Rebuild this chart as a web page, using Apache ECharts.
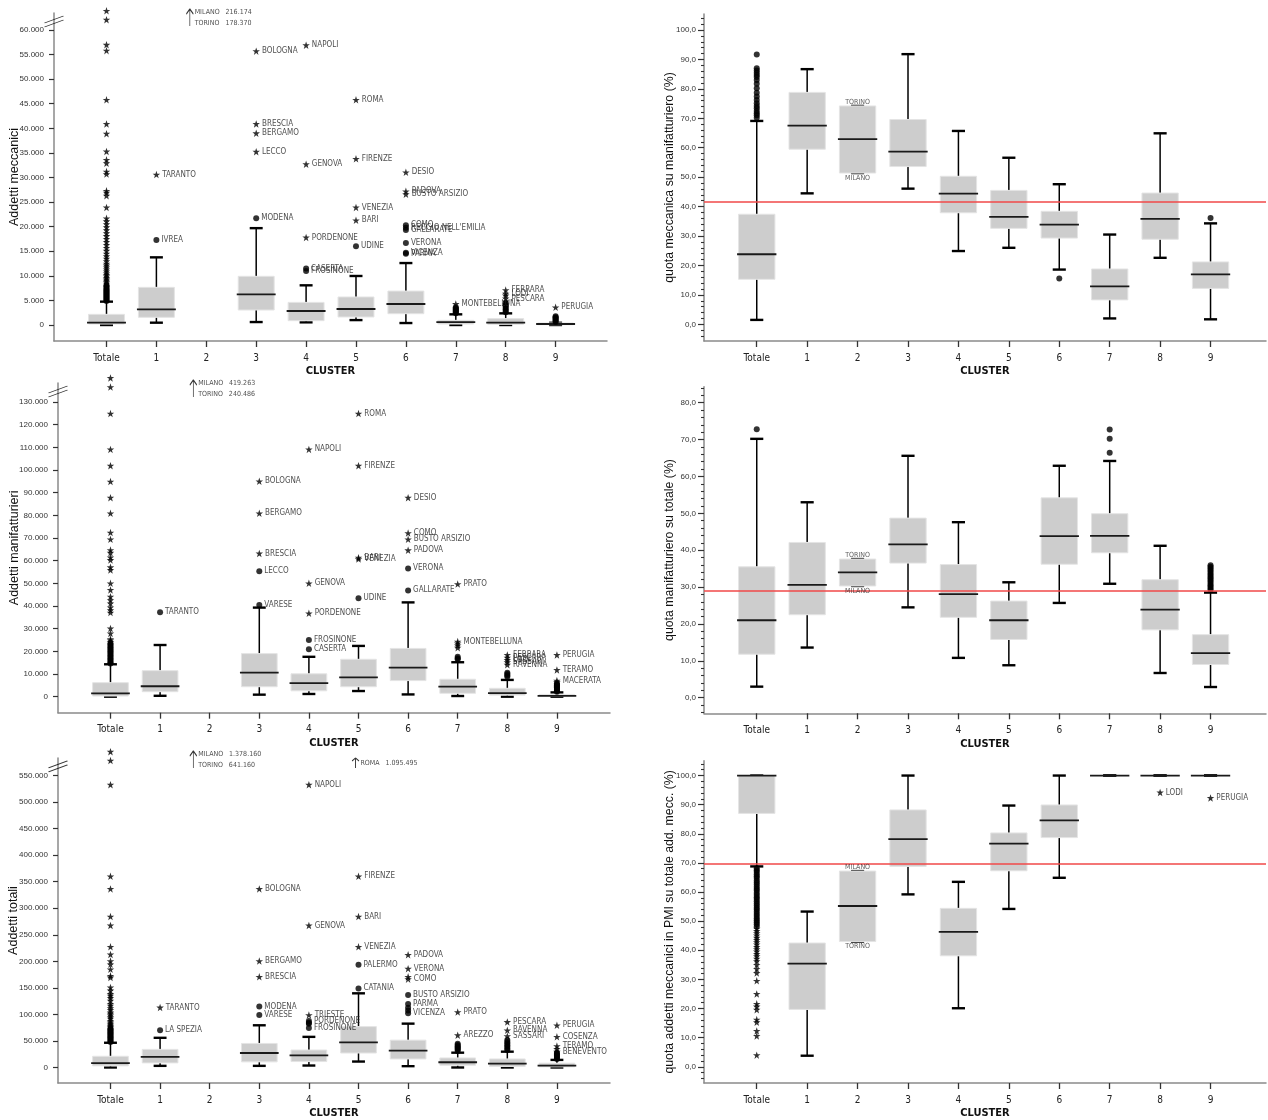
<!DOCTYPE html>
<html><head><meta charset="utf-8">
<script src="https://cdn.jsdelivr.net/npm/echarts@6/dist/echarts.min.js"></script>
<style>html,body{margin:0;padding:0;background:#fff}#c{width:1268px;height:1120px}</style>
</head><body><div id="c"></div>
<script>
// ---------------- DATA ----------------
const categories = ['Totale','1','2','3','4','5','6','7','8','9'];

// box rows: [lower whisker, Q1, median, Q3, upper whisker]  (null = no box)
// outliers: [categoryIndex, value, label]

// Panel 1 - Addetti meccanici
const p1Boxes = [[0,200,470,2170,4750],[470,1560,3190,7660,13760],null,[600,3050,6240,9900,19700],[540,880,2850,4600,8070],[1000,1630,3250,5700,9970],[400,2300,4270,6900,12600],[0,200,600,950,2170],[0,140,470,1300,2370],[0,60,200,400,450]];
const p1TotCircles = [4900,5100,5300,5500,5700,5900,6100,6300,6500,6700,6900,7100,7300,7600,7900,8100];
const p1TotStars = [8400,8700,9000,9300,9600,9900,10200,10500,10900,11300,11700,12100,12500,13000,13500,14000,14500,15100,15700,16300,16900,17500,18100,18700,19300,19900,20500,21100,21700,23900,26300,26900,27300,30700,31200,32900,33600,35300,38900,40900,45800,55800,57000,62100,63900];
const p1Circles = [[1,17300,'IVREA'],[3,21700,'MODENA'],[4,11500,'CASERTA'],[4,11000,'FROSINONE'],[5,16000,'UDINE'],[6,20300,'COMO'],[6,19800,"REGGIO NELL'EMILIA"],[6,19300,'GALLARATE'],[6,16700,'VERONA'],[6,14700,'VICENZA'],[6,14500,'PARMA'],[7,2400,''],[7,2600,''],[7,2800,''],[7,3000,''],[7,3200,''],[7,3400,''],[7,3600,''],[8,2600,''],[8,2900,''],[8,3200,''],[8,3500,''],[8,3800,''],[8,4100,''],[8,4400,''],[9,600,''],[9,800,''],[9,1000,''],[9,1200,''],[9,1400,''],[9,1600,''],[9,1800,'']];
const p1Stars = [[1,30600,'TARANTO'],[3,35250,'LECCO'],[3,39000,'BERGAMO'],[3,40900,'BRESCIA'],[3,55700,'BOLOGNA'],[4,17800,'PORDENONE'],[4,32700,'GENOVA'],[4,56900,'NAPOLI'],[5,21300,'BARI'],[5,23900,'VENEZIA'],[5,33800,'FIRENZE'],[5,45800,'ROMA'],[6,26600,'BUSTO ARSIZIO'],[6,27200,'PADOVA'],[6,31060,'DESIO'],[7,4270,'MONTEBELLUNA'],[8,4800,''],[8,5400,'PESCARA'],[8,6000,''],[8,6400,'LODI'],[8,7100,'FERRARA'],[9,3600,'PERUGIA']];
const p1Offscale = [[2,'MILANO','216.174'],[2,'TORINO','178.370']];
const p1Ticks = [0,5000,10000,15000,20000,25000,30000,35000,40000,45000,50000,55000,60000];

// Panel 2 - quota meccanica su manifatturiero (%)
const p2Boxes = [[1.5,15.3,23.8,37.4,69.1],[44.5,59.5,67.5,78.8,86.7],[51.4,51.4,62.9,74.2,74.2],[46.1,53.6,58.7,69.6,91.8],[24.9,37.9,44.4,50.3,65.7],[26.0,32.6,36.5,45.5,56.6],[18.6,29.3,33.9,38.4,47.6],[2.0,8.3,12.9,18.8,30.5],[22.6,28.9,35.8,44.6,64.9],[1.7,12.2,17.0,21.2,34.3]];
const p2TotCircles = [70.2,71.0,71.7,72.5,73.4,74.2,75.1,76.2,77.4,78.7,80.2,81.7,83.0,84.0,84.7,85.5,86.2,87.0,91.7];
const p2Circles = [[6,15.6,''],[9,36.1,'']];
const p2Members = [['TORINO',74.2],['MILANO',51.4]];
const p2Ref = 41.6;
const p2Ticks = [0,10,20,30,40,50,60,70,80,90,100];

// Panel 3 - Addetti manifatturieri
const p3Boxes = [[0,300,1500,6200,14300],[400,2200,4600,11500,22800],null,[900,4400,10600,19000,39300],[1200,2600,6000,10100,17600],[2500,4400,8500,16500,22400],[1000,7100,12800,21300,41600],[300,1500,4400,7700,15200],[0,700,1600,3700,7400],[0,300,400,1000,1900]];
const p3TotCircles = [14600,15200,15800,16400,17000,17600,18200,18800,19400,20000,20600,21200,21800,22400,23000,23600];
const p3TotStars = [24200,24800,25400,27900,30100,37100,38200,39400,41200,42600,44100,47100,50000,55900,57100,60300,61500,63500,64700,69400,72400,80900,87800,94900,101900,109100,124900,136600,140600];
const p3Circles = [[1,37200,'TARANTO'],[3,40400,'VARESE'],[3,55300,'LECCO'],[4,20900,'CASERTA'],[4,25000,'FROSINONE'],[5,43400,'UDINE'],[6,46900,'GALLARATE'],[6,56600,'VERONA'],[7,16500,''],[7,17000,''],[7,17600,''],[8,8800,''],[8,9400,''],[8,10000,''],[8,10600,''],[9,2200,''],[9,2600,''],[9,3000,''],[9,3400,''],[9,3800,''],[9,4200,''],[9,4600,''],[9,5000,''],[9,5400,''],[9,5900,'']];
const p3Stars = [[3,63200,'BRESCIA'],[3,80900,'BERGAMO'],[3,95000,'BOLOGNA'],[4,36800,'PORDENONE'],[4,50000,'GENOVA'],[4,109100,'NAPOLI'],[5,61300,'BARI'],[5,60700,'VENEZIA'],[5,101900,'FIRENZE'],[5,124900,'ROMA'],[6,64600,'PADOVA'],[6,69400,'BUSTO ARSIZIO'],[6,72200,'COMO'],[6,87800,'DESIO'],[7,21600,''],[7,22600,''],[7,23500,''],[7,24300,'MONTEBELLUNA'],[7,49700,'PRATO'],[8,14100,'RAVENNA'],[8,15200,'SASSARI'],[8,16200,'LODI'],[8,17200,'PESCARA'],[8,18400,'FERRARA'],[9,6400,''],[9,7100,'MACERATA'],[9,11800,'TERAMO'],[9,18400,'PERUGIA']];
const p3Offscale = [[2,'MILANO','419.263'],[2,'TORINO','240.486']];
const p3Ticks = [0,10000,20000,30000,40000,50000,60000,70000,80000,90000,100000,110000,120000,130000];

// Panel 4 - quota manifatturiero su totale (%)
const p4Boxes = [[3.0,11.8,21.0,35.5,70.2],[13.6,22.5,30.6,42.1,53.0],[30.3,30.3,34.0,37.6,37.6],[24.5,36.5,41.6,48.7,65.6],[10.8,21.8,28.1,36.1,47.6],[8.8,15.8,21.0,26.2,31.3],[25.7,36.2,43.8,54.2,62.9],[30.9,39.3,43.9,49.9,64.2],[6.7,18.4,23.9,32.0,41.2],[2.9,9.0,12.1,17.1,28.5]];
const p4TotCircles = [72.8];
const p4Circles = [[7,66.4,''],[7,70.2,''],[7,72.7,''],[9,29.2,''],[9,29.6,''],[9,30.1,''],[9,30.5,''],[9,31.0,''],[9,31.5,''],[9,31.9,''],[9,32.4,''],[9,32.8,''],[9,33.3,''],[9,33.7,''],[9,34.2,''],[9,34.6,''],[9,35.1,''],[9,35.5,''],[9,35.9,'']];
const p4Members = [['TORINO',37.6],['MILANO',30.3]];
const p4Ref = 29.1;
const p4Ticks = [0,10,20,30,40,50,60,70,80];

// Panel 5 - Addetti totali
const p5Boxes = [[0,3100,8100,21100,46600],[3100,8700,19900,34100,55900],null,[3100,10600,27300,45300,79500],[3700,11200,23000,32900,57700],[11200,27300,47200,77000,139700],[2500,16100,31700,51500,82600],[0,4300,9900,18000,27900],[0,1900,7400,16100,29800],[0,1200,3700,8100,14300]];
const p5TotCircles = [48000,50000,52000,54000,56000,58000,60000,62000,64000,66000,68000,70000,72000,74000];
const p5TotStars = [76000,78500,80500,82600,85000,88000,91900,95000,98000,101200,104000,108600,112000,116700,120000,126000,131000,135300,138400,145000,150800,169500,172600,185000,194300,200500,212900,227200,267500,284300,336400,360000,532600,578000,594800];
const p5Circles = [[1,70100,'LA SPEZIA'],[3,98700,'VARESE'],[3,114800,'MODENA'],[4,74500,'FROSINONE'],[4,82600,''],[4,84500,''],[4,87500,'PORDENONE'],[5,149000,'CATANIA'],[5,193700,'PALERMO'],[6,102400,'VICENZA'],[6,107400,''],[6,112400,''],[6,119800,'PARMA'],[6,136600,'BUSTO ARSIZIO'],[7,31000,''],[7,34000,''],[7,36000,''],[7,38000,''],[7,40000,''],[7,42200,''],[7,44500,''],[8,33000,''],[8,36000,''],[8,39000,''],[8,42000,''],[8,45000,''],[8,48000,''],[8,52000,''],[9,16000,''],[9,18000,''],[9,20000,''],[9,22000,''],[9,24000,''],[9,26000,''],[9,28000,'']];
const p5Stars = [[1,113000,'TARANTO'],[3,170700,'BRESCIA'],[3,200500,'BERGAMO'],[3,336400,'BOLOGNA'],[4,98700,'TRIESTE'],[4,267500,'GENOVA'],[4,532600,'NAPOLI'],[5,227200,'VENEZIA'],[5,284300,'BARI'],[5,360000,'FIRENZE'],[6,166400,'COMO'],[6,170700,''],[6,186200,'VERONA'],[6,212300,'PADOVA'],[7,60800,'AREZZO'],[7,104300,'PRATO'],[8,59000,'SASSARI'],[8,70100,'RAVENNA'],[8,85700,'PESCARA'],[9,30000,'BENEVENTO'],[9,35000,''],[9,40300,'TERAMO'],[9,57700,'COSENZA'],[9,79500,'PERUGIA']];
const p5Offscale = [[2,'MILANO','1.378.160'],[2,'TORINO','641.160'],[5,'ROMA','1.095.495']];
const p5Ticks = [0,50000,100000,150000,200000,250000,300000,350000,400000,450000,500000,550000];

// Panel 6 - quota addetti meccanici in PMI su totale add. mecc. (%)
const p6Boxes = [[68.8,87.0,100,100,100],[3.8,19.7,35.4,42.5,53.3],[43.0,43.0,55.2,67.2,67.2],[59.2,68.8,78.2,88.2,100],[20.1,38.1,46.3,54.4,63.5],[54.2,67.3,76.6,80.3,89.7],[64.9,78.7,84.6,89.9,100],[100,100,100,100,100],[100,100,100,100,100],[100,100,100,100,100]];
const p6TotCircles = [68.2,67.5,66.9,66.1,65.4,64.8,64.0,63.3,62.6,61.8,61.1,60.5,59.7,59.0,58.2,57.6,56.8,56.1,55.4,54.6,54.0,53.2,52.5,51.8,51.0,50.3,49.6,48.9,48.2];
const p6TotStars = [47.4,46.7,45.9,45.1,44.3,43.6,42.8,42.0,41.2,40.4,39.6,38.8,38.0,37.1,36.3,35.0,33.6,32.2,29.5,25.0,21.6,20.7,19.6,16.2,15.3,12.3,10.6,4.0];
const p6Stars = [[8,94.2,'LODI'],[9,92.3,'PERUGIA']];
const p6Members = [['MILANO',67.2],['TORINO',43.0]];
const p6Ref = 69.6;
const p6Ticks = [0,10,20,30,40,50,60,70,80,90,100];

// ---------------- LAYOUT / STYLE ----------------
const NARROW = "'Liberation Sans Narrow','Arial Narrow','DejaVu Sans Condensed',sans-serif";
const SANS = "'Liberation Sans',Arial,sans-serif";
const STAR = 'path://M50,0 L61.8,34.5 L97.6,34.5 L68.8,55.9 L79.4,90.5 L50,69.1 L20.6,90.5 L31.2,55.9 L2.4,34.5 L38.2,34.5 Z';
const ARROW = 'path://M6,0 L0,6 M6,0 L12,6 M6,0 L6,20';
const BREAK = 'path://M0,7 L19,0 M0,11 L19,4';
const BOX_W = 0.72, MED_W = 0.78, CAP_W = 0.26;

const LAYOUT = [
  {left:54, top:13, width:553, height:328, xMin:-0.052, xMax:11.03, yMin:-3254, yMax:63457, nameGap:33, arrowBottom:13},
  {left:704, top:14, width:562, height:327, xMin:-0.046, xMax:11.1, yMin:-5.67, yMax:105.44, nameGap:28},
  {left:58, top:383, width:552, height:329.7, xMin:-0.058, xMax:11.07, yMin:-7060, yMax:138380, nameGap:37, arrowBottom:14},
  {left:704, top:386.7, width:562, height:326.6, xMin:-0.046, xMax:11.1, yMin:-4.23, yMax:84.34, nameGap:28},
  {left:58, top:758, width:552, height:328.7, xMin:-0.058, xMax:11.07, yMin:-29200, yMax:582900, nameGap:37.5, arrowBottom:10},
  {left:704, top:760.7, width:562, height:326, xMin:-0.046, xMax:11.1, yMin:-5.57, yMax:105.1, nameGap:28}
];
const ARROW_DX = {2:-0.33, 5:-0.06};

const PANELS = [
  {name:'Addetti meccanici', pct:false, boxes:p1Boxes, totCircles:p1TotCircles, totStars:p1TotStars, circles:p1Circles, stars:p1Stars, offscale:p1Offscale, ticks:p1Ticks},
  {name:'quota meccanica su manifatturiero (%)', pct:true, boxes:p2Boxes, totCircles:p2TotCircles, totStars:[], circles:p2Circles, stars:[], members:p2Members, ref:p2Ref, ticks:p2Ticks},
  {name:'Addetti manifatturieri', pct:false, boxes:p3Boxes, totCircles:p3TotCircles, totStars:p3TotStars, circles:p3Circles, stars:p3Stars, offscale:p3Offscale, ticks:p3Ticks},
  {name:'quota manifatturiero su totale (%)', pct:true, boxes:p4Boxes, totCircles:p4TotCircles, totStars:[], circles:p4Circles, stars:[], members:p4Members, ref:p4Ref, ticks:p4Ticks},
  {name:'Addetti totali', pct:false, boxes:p5Boxes, totCircles:p5TotCircles, totStars:p5TotStars, circles:p5Circles, stars:p5Stars, offscale:p5Offscale, ticks:p5Ticks},
  {name:'quota addetti meccanici in PMI su totale add. mecc. (%)', pct:true, boxes:p6Boxes, totCircles:p6TotCircles, totStars:p6TotStars, circles:[], stars:p6Stars, members:p6Members, ref:p6Ref, ticks:p6Ticks}
];

const CAT_POS = categories.map((c,i)=>i+1);
const fmtThousands = v => String(Math.round(v)).replace(/\B(?=(\d{3})+(?!\d))/g,'.');
const fmtPct = v => v.toFixed(1).replace('.',',');

function renderBox(params, api) {
  const x = api.value(0);
  const lo = api.value(1), q1 = api.value(2), md = api.value(3), q3 = api.value(4), hi = api.value(5);
  const pLo = api.coord([x, lo]), pQ1 = api.coord([x, q1]), pMd = api.coord([x, md]), pQ3 = api.coord([x, q3]), pHi = api.coord([x, hi]);
  const cx = pMd[0];
  const bw = api.size([BOX_W, 0])[0], mw = api.size([MED_W, 0])[0], cw = api.size([CAP_W, 0])[0];
  const wl = {stroke:'#000', lineWidth:1.5, fill:null};
  const cl = {stroke:'#000', lineWidth:2.4, fill:null};
  const ch = [];
  if (hi > q3) ch.push({type:'line', shape:{x1:cx, y1:pQ3[1], x2:cx, y2:pHi[1]}, style:wl});
  if (lo < q1) ch.push({type:'line', shape:{x1:cx, y1:pQ1[1], x2:cx, y2:pLo[1]}, style:wl});
  ch.push({type:'line', shape:{x1:cx-cw/2, y1:pHi[1], x2:cx+cw/2, y2:pHi[1]}, style:cl});
  ch.push({type:'line', shape:{x1:cx-cw/2, y1:pLo[1], x2:cx+cw/2, y2:pLo[1]}, style:cl});
  ch.push({type:'rect', shape:{x:cx-bw/2, y:pQ3[1], width:bw, height:Math.max(0, pQ1[1]-pQ3[1])}, style:{fill:'#cdcdcd', stroke:'#e4e4e4', lineWidth:1}});
  ch.push({type:'line', shape:{x1:cx-mw/2, y1:pMd[1], x2:cx+mw/2, y2:pMd[1]}, style:{stroke:'#1a1a1a', lineWidth:1.8}});
  return {type:'group', children:ch};
}

const grids = [], xAxes = [], yAxes = [], series = [];
const outLabel = {show:true, position:'right', distance:2, formatter:p=>p.name||'', fontFamily:NARROW, fontSize:8, color:'#222'};

PANELS.forEach((P, i) => {
  const L = LAYOUT[i];
  const perPx = (L.yMax - L.yMin) / L.height;
  grids.push({left:L.left, top:L.top, width:L.width, height:L.height, containLabel:false});
  xAxes.push({
    gridIndex:i, type:'value', min:L.xMin, max:L.xMax,
    axisLine:{show:true, onZero:false, lineStyle:{color:'#8a8a8a', width:1.5}},
    axisTick:{show:true, customValues:CAT_POS, length:6, lineStyle:{color:'#333', width:1.3}},
    axisLabel:{show:true, customValues:CAT_POS, formatter:v=>categories[Math.round(v)-1]||'', fontFamily:NARROW, fontSize:10, color:'#222', margin:12},
    splitLine:{show:false},
    name:'CLUSTER', nameLocation:'middle', nameGap:25, nameMoveOverlap:false,
    nameTextStyle:{fontFamily:NARROW, fontWeight:'bold', fontSize:11, color:'#111'}
  });
  const yi = yAxes.length;
  yAxes.push({
    gridIndex:i, type:'value', min:L.yMin, max:L.yMax, position:'left',
    axisLine:{show:true, onZero:false, lineStyle:{color:'#8a8a8a', width:1.5}},
    axisTick:{show:true, customValues:P.ticks, length:P.pct?6:5, lineStyle:{color:'#333', width:1.2}},
    axisLabel:{show:true, customValues:P.ticks, formatter:P.pct?fmtPct:fmtThousands, fontFamily:SANS, fontSize:8, color:'#333', margin:P.pct?8:10},
    splitLine:{show:false},
    name:P.name, nameLocation:'middle', nameGap:L.nameGap, nameMoveOverlap:false,
    nameTextStyle:{fontFamily:SANS, fontSize:P.pct?12.3:12.5, color:'#111'}
  });
  if (P.pct) {
    const minor = [];
    for (let v = Math.ceil(L.yMin/2)*2; v <= L.yMax; v += 2) if (v % 10 !== 0) minor.push(v);
    yAxes.push({
      gridIndex:i, type:'value', min:L.yMin, max:L.yMax, position:'left', offset:0,
      axisLine:{show:false, onZero:false},
      axisTick:{show:true, customValues:minor, length:3, lineStyle:{color:'#333', width:1.1}},
      axisLabel:{show:false}, splitLine:{show:false}
    });
  }

  series.push({type:'custom', xAxisIndex:i, yAxisIndex:yi, renderItem:renderBox, silent:true, z:2,
    encode:{x:0, y:[1,2,3,4,5]},
    data:P.boxes.map((b,k)=>b?[k+1].concat(b):null).filter(Boolean)});

  const circ = P.totCircles.map(v=>({value:[1,v], name:''})).concat(P.circles.map(([c,v,n])=>({value:[c+1,v], name:n})));
  const circSeries = {type:'scatter', xAxisIndex:i, yAxisIndex:yi, symbol:'circle', symbolSize:6, clip:false, silent:true, z:4,
    itemStyle:{color:'#000'}, label:outLabel, data:circ};
  if (P.ref !== undefined) {
    circSeries.markLine = {silent:true, symbol:['none','none'], label:{show:false}, animation:false,
      lineStyle:{color:'#f04848', width:1.5, type:'solid'}, data:[{yAxis:P.ref}]};
  }
  series.push(circSeries);

  const st = P.totStars.map(v=>({value:[1,v], name:''})).concat(P.stars.map(([c,v,n])=>({value:[c+1,v], name:n})));
  series.push({type:'scatter', xAxisIndex:i, yAxisIndex:yi, symbol:STAR, symbolSize:7.5, clip:false, silent:true, z:4,
    itemStyle:{color:'#000'}, label:outLabel, data:st});

  if (P.members) {
    const hiV = Math.max(...P.members.map(m=>m[1]));
    series.push({type:'scatter', xAxisIndex:i, yAxisIndex:yi, symbol:'circle', symbolSize:1, silent:true, z:5,
      itemStyle:{color:'rgba(0,0,0,0)'},
      data:P.members.map(([n,v])=>({value:[3,v], name:n, label:{position:v===hiV?'top':'bottom', distance:v===hiV?0:1}})),
      label:{show:true, formatter:p=>p.name, fontFamily:NARROW, fontSize:7, color:'#333'}});
  }

  if (P.offscale) {
    series.push({type:'scatter', xAxisIndex:i, yAxisIndex:yi, symbol:BREAK, symbolSize:[19,11], clip:false, silent:true, z:6,
      itemStyle:{color:'rgba(0,0,0,0)', borderColor:'#000', borderWidth:1.1},
      data:[[L.xMin, L.yMax - 8.5*perPx]]});
    const groups = {};
    P.offscale.forEach(([c,n,v]) => { (groups[c] = groups[c] || []).push([n,v]); });
    const arrData = Object.keys(groups).map(c => {
      const lines = groups[c];
      const h = lines.length > 1 ? 17 : 10;
      const centerPx = L.arrowBottom - h/2;
      return {value:[+c + 1 + (ARROW_DX[c]||0), L.yMax - centerPx*perPx], symbolSize:[7,h], lines:lines};
    });
    series.push({type:'scatter', xAxisIndex:i, yAxisIndex:yi, symbol:ARROW, clip:false, silent:true, z:6,
      itemStyle:{color:'rgba(0,0,0,0)', borderColor:'#000', borderWidth:1.1},
      data:arrData.map(d=>({value:d.value, symbolSize:d.symbolSize, name:d.lines.map(l=>l[0]+'   '+l[1]).join('\n')})),
      label:{show:true, position:'right', distance:1, formatter:p=>p.name, fontFamily:NARROW, fontSize:7, color:'#222', lineHeight:10.5}});
  }
});

const chart = echarts.init(document.getElementById('c'), null, {renderer:'canvas'});
chart.setOption({
  animation:false,
  backgroundColor:'#ffffff',
  textStyle:{fontFamily:SANS},
  grid:grids, xAxis:xAxes, yAxis:yAxes, series:series
});
</script>
</body></html>
